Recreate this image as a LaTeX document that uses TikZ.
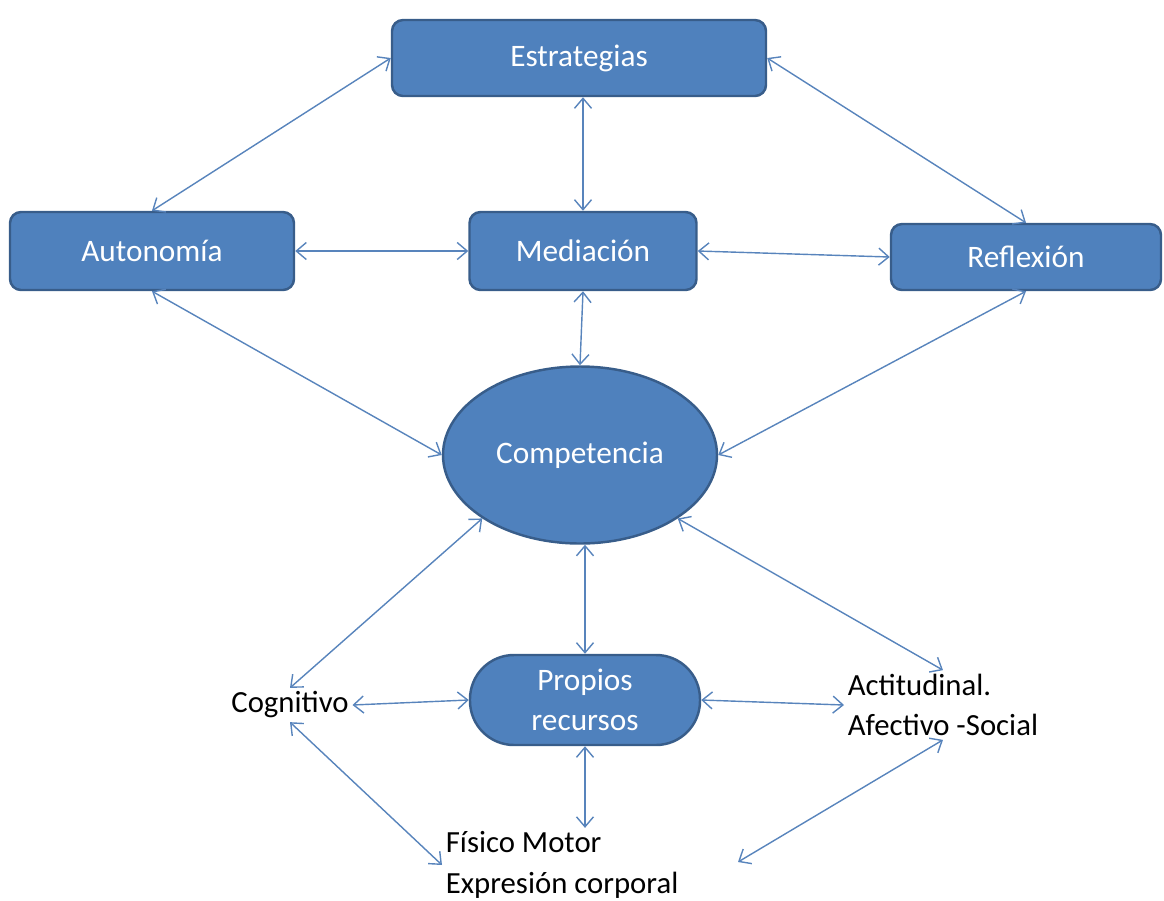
\documentclass[tikz,border=0pt]{standalone}
\usepackage{fontspec}
\setmainfont{Carlito}
\usepackage{tikz}
\usetikzlibrary{arrows.meta, calc, positioning, shapes.geometric}
\usepackage{xcolor}
\definecolor{azulCaja}{RGB}{79,129,189}
\definecolor{bordeCaja}{RGB}{56,93,138}
\definecolor{azulFlecha}{RGB}{88,132,188}

\begin{document}
\begin{tikzpicture}[
    caja/.style={draw=bordeCaja, fill=azulCaja, line width=1.4pt, rounded corners=0.22cm,
                 text=white, font=\fontsize{17.8}{22.5}\selectfont, align=center, inner sep=0pt},
    texto/.style={font=\fontsize{17.5}{23}\selectfont, text=black, inner sep=2pt},
    flecha/.style={azulFlecha, line width=0.8pt, {Straight Barb[length=2mm,width=3.4mm]}-{Straight Barb[length=2mm,width=3.4mm]}}
]
    \useasboundingbox (0,0) rectangle (23.28,-18);

    % fila superior
    \node[caja, minimum width=7.48cm, minimum height=1.52cm] (estr) at (11.58,-1.16) {Estrategias};
    \node[caja, minimum width=5.68cm, minimum height=1.56cm] (auto) at (3.04,-5.02) {Autonomía};
    \node[caja, minimum width=4.54cm, minimum height=1.56cm] (med) at (11.66,-5.02) {Mediación};
    \node[caja, minimum width=5.40cm, minimum height=1.32cm] (refl) at (20.52,-5.14) {Reflexión};

    % centro
    \node[ellipse, draw=bordeCaja, fill=azulCaja, line width=1.4pt, text=white,
          font=\fontsize{17.8}{22.5}\selectfont, minimum width=5.48cm, minimum height=3.54cm,
          inner sep=0pt] (comp) at (11.6,-9.1) {Competencia};

    % fila inferior
    \node[caja, rounded corners=0.88cm, minimum width=4.6cm, minimum height=1.8cm] (prop) at (11.7,-14.0) {Propios\\recursos};
    \node[texto] (cog) at (5.8,-14.1) {Cognitivo};
    \node[texto, anchor=west, align=left] (act) at (16.88,-14.1) {Actitudinal.\\Afectivo -Social};
    \node[texto, anchor=west, align=left] (fis) at (8.84,-17.3) {Físico Motor\\Expresión corporal};
    \coordinate (fisR) at (14.76,-17.24);

    % conexiones
    \draw[flecha] (auto.north) -- (estr.west);
    \draw[flecha] (estr.east) -- (refl.north);
    \draw[flecha] (estr.south -| med.north) -- (med.north);
    \draw[flecha] (auto.east) -- (med.west);
    \draw[flecha] (med.east) -- (refl.west);
    \draw[flecha] (med.south) -- (comp.north);
    \draw[flecha] (auto.south) -- (comp.west);
    \draw[flecha] (refl.south) -- (comp.east);
    \draw[flecha] (comp.south west) -- (cog.north);
    \draw[flecha] (comp.south -| prop.north) -- (prop.north);
    \draw[flecha] (comp.south east) -- (act.north);
    \draw[flecha] (cog.east) -- (prop.west);
    \draw[flecha] (prop.east) -- (act.west);
    \draw[flecha] (prop.south) -- (prop.south |- fis.north);
    \draw[flecha] (cog.south) -- (fis.west);
    \draw[flecha] (act.south) -- (fisR);
\end{tikzpicture}
\end{document}
